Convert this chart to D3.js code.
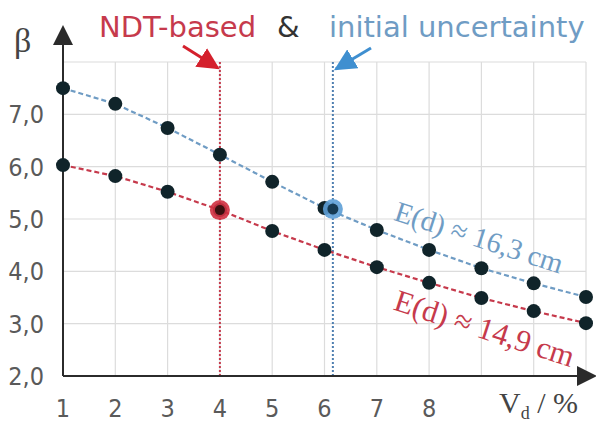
<!DOCTYPE html>
<html>
<head>
<meta charset="utf-8">
<script src="https://cdn.jsdelivr.net/npm/d3@7"></script>
<style>
  body { margin: 0; background: #fff; }
  svg { display: block; }
</style>
</head>
<body>
<div id="chart"></div>
<script>
// chart data
const vd = [1, 2, 3, 4, 5, 6, 7, 8, 9, 10, 11];
const betaInitial = [7.5, 7.2, 6.74, 6.23, 5.71, 5.21, 4.79, 4.41, 4.06, 3.77, 3.51];
const betaNdt = [6.03, 5.82, 5.52, 5.17, 4.77, 4.41, 4.08, 3.78, 3.49, 3.24, 3.01];
const xTickLabels = ['1', '2', '3', '4', '5', '6', '7', '8'];
const yTickValues = [2, 3, 4, 5, 6, 7];
const ndtPoint = { vd: 4, beta: 5.17 };
const initPoint = { vd: 6.16, beta: 5.19 };

const width = 596, height = 425;
const red = '#c63a4c', blue = '#6f9cc4', dot = '#10242a';

const svg = d3.select('#chart').append('svg')
  .attr('width', width)
  .attr('height', height);

const x = d3.scaleLinear().domain([1, 11]).range([63, 586]);
const y = d3.scaleLinear().domain([2, 8]).range([376, 62]);

const defs = svg.append('defs');
function arrowHead(id, color, size) {
  defs.append('marker')
    .attr('id', id)
    .attr('viewBox', '0 0 10 10')
    .attr('refX', 9).attr('refY', 5)
    .attr('markerWidth', size).attr('markerHeight', size)
    .attr('markerUnits', 'userSpaceOnUse')
    .attr('orient', 'auto')
    .append('path')
    .attr('d', 'M0,0 L10,5 L0,10 Z')
    .attr('fill', color);
}
arrowHead('axisHead', '#2b2b2b', 20);
arrowHead('redHead', '#d4202c', 22);
arrowHead('blueHead', '#3f8fd0', 22);

// grid
const grid = svg.append('g').attr('class', 'grid');
grid.selectAll('line.v')
  .data(d3.range(2, 12))
  .join('line')
  .attr('class', 'v')
  .attr('x1', d => x(d)).attr('x2', d => x(d))
  .attr('y1', y(2)).attr('y2', y(8))
  .attr('stroke', '#dcdcdc').attr('stroke-width', 1.2);
grid.selectAll('line.h')
  .data(d3.range(3, 9))
  .join('line')
  .attr('class', 'h')
  .attr('x1', x(1)).attr('x2', x(11))
  .attr('y1', d => y(d)).attr('y2', d => y(d))
  .attr('stroke', '#dcdcdc').attr('stroke-width', 1.2);

// vertical markers
svg.append('line')
  .attr('x1', x(ndtPoint.vd)).attr('x2', x(ndtPoint.vd))
  .attr('y1', y(8)).attr('y2', y(2))
  .attr('stroke', red).attr('stroke-width', 2)
  .attr('stroke-dasharray', '2,2');
svg.append('line')
  .attr('x1', x(initPoint.vd)).attr('x2', x(initPoint.vd))
  .attr('y1', y(8)).attr('y2', y(2))
  .attr('stroke', '#4f7fb0').attr('stroke-width', 2)
  .attr('stroke-dasharray', '2,2');

// axes
svg.append('line')
  .attr('x1', x(1)).attr('x2', x(1))
  .attr('y1', y(2)).attr('y2', 27)
  .attr('stroke', '#2b2b2b').attr('stroke-width', 2)
  .attr('marker-end', 'url(#axisHead)');
svg.append('line')
  .attr('x1', x(1)).attr('x2', 595)
  .attr('y1', y(2)).attr('y2', y(2))
  .attr('stroke', '#2b2b2b').attr('stroke-width', 2)
  .attr('marker-end', 'url(#axisHead)');

// tick labels
svg.append('g').selectAll('text')
  .data(yTickValues)
  .join('text')
  .attr('x', 44)
  .attr('y', d => y(d) + 9)
  .attr('text-anchor', 'end')
  .attr('font-family', 'DejaVu Sans Condensed, DejaVu Sans')
  .attr('font-size', 25)
  .attr('fill', '#5a5a5a')
  .text(d => d3.format('.1f')(d).replace('.', ','));

svg.append('g').selectAll('text')
  .data(xTickLabels)
  .join('text')
  .attr('x', d => x(+d))
  .attr('y', 417)
  .attr('text-anchor', 'middle')
  .attr('font-family', 'DejaVu Sans Condensed, DejaVu Sans')
  .attr('font-size', 25)
  .attr('fill', '#5a5a5a')
  .text(d => d);

// axis titles
svg.append('text')
  .attr('x', 14).attr('y', 52)
  .attr('font-family', 'Liberation Serif, serif')
  .attr('font-size', 34)
  .attr('fill', '#444')
  .text('β');
const vt = svg.append('text')
  .attr('x', 499).attr('y', 413)
  .attr('font-family', 'Liberation Serif, serif')
  .attr('font-size', 30)
  .attr('fill', '#444');
vt.append('tspan').text('V');
vt.append('tspan').attr('font-size', 18).attr('dy', 6).text('d');
vt.append('tspan').attr('dy', -6).text(' / %');

// series lines
const line = d3.line().x((d, i) => x(vd[i])).y(d => y(d));
svg.append('path').datum(betaInitial)
  .attr('d', line)
  .attr('fill', 'none').attr('stroke', blue)
  .attr('stroke-width', 2.2).attr('stroke-dasharray', '5,3');
svg.append('path').datum(betaNdt)
  .attr('d', line)
  .attr('fill', 'none').attr('stroke', red)
  .attr('stroke-width', 2.2).attr('stroke-dasharray', '5,3');

// points
svg.append('g').selectAll('circle')
  .data(betaInitial.map((b, i) => [vd[i], b]).concat(betaNdt.map((b, i) => [vd[i], b])))
  .join('circle')
  .attr('cx', d => x(d[0])).attr('cy', d => y(d[1]))
  .attr('r', 7)
  .attr('fill', dot);

// highlighted points
svg.append('circle')
  .attr('cx', x(ndtPoint.vd)).attr('cy', y(ndtPoint.beta))
  .attr('r', 10).attr('fill', '#d03040').attr('opacity', 0.9);
svg.append('circle')
  .attr('cx', x(ndtPoint.vd)).attr('cy', y(ndtPoint.beta))
  .attr('r', 5).attr('fill', '#3a1010');
svg.append('circle')
  .attr('cx', x(initPoint.vd)).attr('cy', y(initPoint.beta))
  .attr('r', 10).attr('fill', '#5d9fd6').attr('opacity', 0.9);
svg.append('circle')
  .attr('cx', x(initPoint.vd)).attr('cy', y(initPoint.beta))
  .attr('r', 5.5).attr('fill', '#163a52');

// pointer arrows
svg.append('line')
  .attr('x1', 183).attr('y1', 46)
  .attr('x2', x(ndtPoint.vd) - 2).attr('y2', y(8) + 6)
  .attr('stroke', '#d4202c').attr('stroke-width', 3)
  .attr('marker-end', 'url(#redHead)');
svg.append('line')
  .attr('x1', 371).attr('y1', 48)
  .attr('x2', x(initPoint.vd) + 3).attr('y2', y(8) + 7)
  .attr('stroke', '#3f8fd0').attr('stroke-width', 3)
  .attr('marker-end', 'url(#blueHead)');

// header
svg.append('text')
  .attr('x', 99).attr('y', 37)
  .attr('font-family', 'DejaVu Sans')
  .attr('font-size', 29)
  .attr('fill', red)
  .text('NDT-based');
svg.append('text')
  .attr('x', 277).attr('y', 37)
  .attr('font-family', 'DejaVu Sans')
  .attr('font-size', 29)
  .attr('fill', '#333')
  .text('&');
svg.append('text')
  .attr('x', 329).attr('y', 37)
  .attr('font-family', 'DejaVu Sans')
  .attr('font-size', 29)
  .attr('fill', blue)
  .text('initial uncertainty');

// curve annotations
svg.append('text')
  .attr('transform', `translate(${x(8.9)},${y(4.47)}) rotate(18)`)
  .attr('text-anchor', 'middle')
  .attr('font-family', 'Liberation Serif, serif')
  .attr('font-size', 29)
  .attr('fill', blue)
  .text('E(d) ≈ 16,3 cm');
svg.append('text')
  .attr('transform', `translate(${x(9.0)},${y(2.72)}) rotate(18)`)
  .attr('text-anchor', 'middle')
  .attr('font-family', 'Liberation Serif, serif')
  .attr('font-size', 31)
  .attr('fill', red)
  .text('E(d) ≈ 14,9 cm');
</script>
</body>
</html>
